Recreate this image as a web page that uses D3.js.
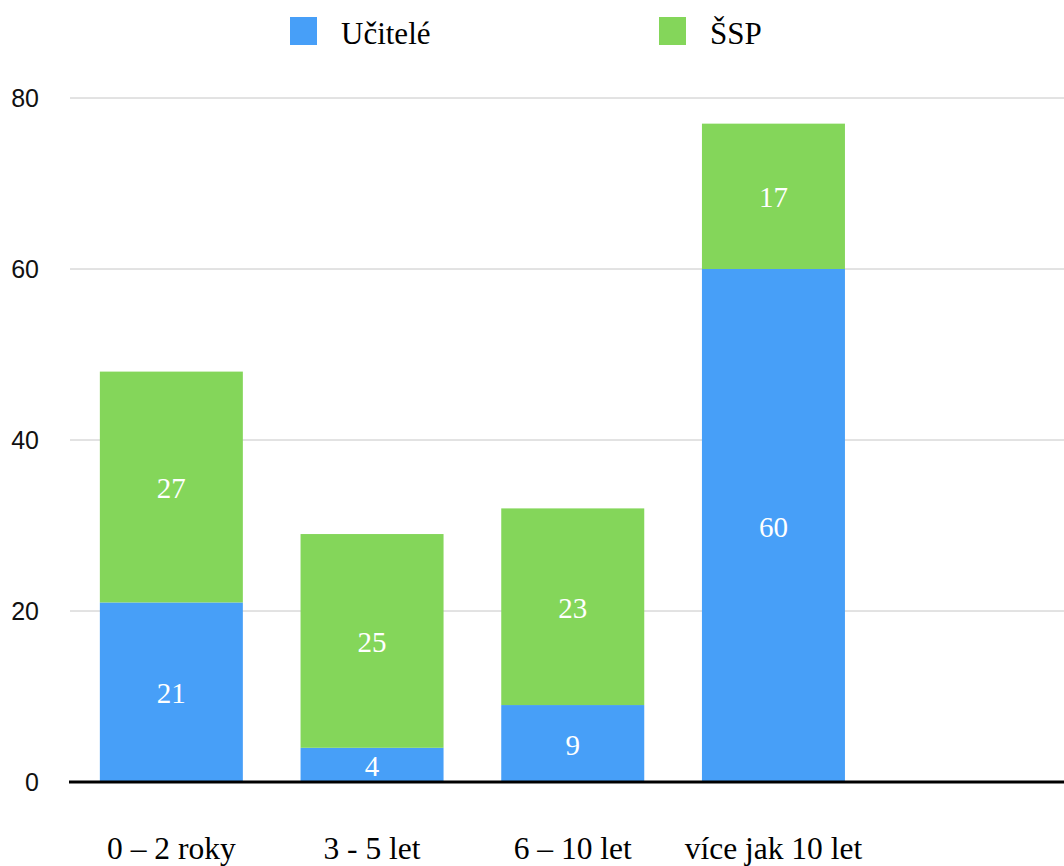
<!DOCTYPE html>
<html>
<head>
<meta charset="utf-8">
<script src="https://cdn.jsdelivr.net/npm/d3@7"></script>
<style>
  body { margin: 0; background: #fff; }
</style>
</head>
<body>
<svg id="chart"></svg>
<script>
const categories = ["0 – 2 roky", "3 - 5 let", "6 – 10 let", "více jak 10 let"];
const seriesNames = ["Učitelé", "ŠSP"];
const ucitele = [21, 4, 9, 60];
const ssp = [27, 25, 23, 17];
const yTicks = [0, 20, 40, 60, 80];

const width = 1064, height = 866;
const colors = { "Učitelé": "#479ff8", "ŠSP": "#84d65a" };

const svg = d3.select("#chart").attr("width", width).attr("height", height);

const x = d3.scaleBand()
    .domain(categories)
    .range([71, 71 + 4 * 200.7])
    .paddingInner(0.2875)
    .paddingOuter(0.14375);

const y = d3.scaleLinear().domain([0, 80]).range([782, 98]);

// gridlines
svg.append("g")
    .selectAll("line")
    .data(yTicks.filter(d => d > 0))
    .enter().append("line")
    .attr("x1", 70).attr("x2", width)
    .attr("y1", d => y(d)).attr("y2", d => y(d))
    .style("stroke", "#c6c6c6")
    .style("stroke-width", 1);

// y tick labels
svg.append("g")
    .selectAll("text")
    .data(yTicks)
    .enter().append("text")
    .attr("x", 39)
    .attr("y", d => y(d) + 9)
    .attr("text-anchor", "end")
    .style("font-family", "'Liberation Sans', Arial, sans-serif")
    .style("font-size", "25px")
    .style("fill", "#111")
    .text(d => d);

// stacked data
const rows = categories.map((c, i) => ({ cat: c, "Učitelé": ucitele[i], "ŠSP": ssp[i] }));
const stacked = d3.stack().keys(seriesNames)(rows);

const layers = svg.selectAll(".layer")
    .data(stacked)
    .enter().append("g")
    .attr("class", "layer")
    .style("fill", d => colors[d.key]);

layers.selectAll("rect")
    .data(d => d)
    .enter().append("rect")
    .attr("x", d => x(d.data.cat))
    .attr("width", x.bandwidth())
    .attr("y", d => y(d[1]))
    .attr("height", d => y(d[0]) - y(d[1]));

layers.selectAll("text")
    .data(d => d)
    .enter().append("text")
    .attr("x", d => x(d.data.cat) + x.bandwidth() / 2)
    .attr("y", d => (y(d[0]) + y(d[1])) / 2 + 11)
    .attr("text-anchor", "middle")
    .style("font-family", "'Liberation Serif', 'Times New Roman', serif")
    .style("font-size", "29px")
    .style("fill", "#fff")
    .text(d => d[1] - d[0]);

// baseline axis
svg.append("line")
    .attr("x1", 69).attr("x2", width)
    .attr("y1", y(0)).attr("y2", y(0))
    .style("stroke", "#000")
    .style("stroke-width", 3);

// category labels
svg.append("g")
    .selectAll("text")
    .data(categories)
    .enter().append("text")
    .attr("x", d => x(d) + x.bandwidth() / 2)
    .attr("y", 859)
    .attr("text-anchor", "middle")
    .style("font-family", "'Liberation Serif', 'Times New Roman', serif")
    .style("font-size", "31.5px")
    .style("fill", "#000")
    .text(d => d);

// legend
const legendPos = [290, 659];
const legend = svg.append("g")
    .selectAll("g")
    .data(seriesNames)
    .enter().append("g")
    .attr("transform", (d, i) => `translate(${legendPos[i]}, 17)`);
legend.append("rect")
    .attr("width", 27).attr("height", 28)
    .style("fill", d => colors[d]);
legend.append("text")
    .attr("x", 51).attr("y", 27)
    .style("font-family", "'Liberation Serif', 'Times New Roman', serif")
    .style("font-size", "31px")
    .style("fill", "#000")
    .text(d => d);
</script>
</body>
</html>
